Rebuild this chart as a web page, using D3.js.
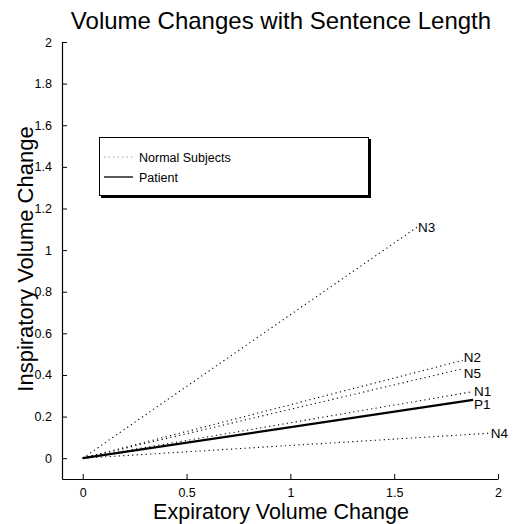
<!DOCTYPE html>
<html>
<head>
<meta charset="utf-8">
<script src="https://cdn.jsdelivr.net/npm/d3@7"></script>
<style>
  html, body { margin: 0; padding: 0; background: #fff; }
  svg { display: block; font-family: "Liberation Sans", Arial, sans-serif; }
</style>
</head>
<body>
<svg id="chart" width="518" height="524"></svg>
<script>
// Data
const subjects = ["N1", "N2", "N3", "N4", "N5", "P1"];
const endX     = [1.88, 1.83, 1.61, 1.96, 1.83, 1.88];
const endY     = [0.32, 0.47, 1.11, 0.12, 0.43, 0.28];
const groups   = ["normal", "normal", "normal", "normal", "normal", "patient"];
const labelDy  = [0, -3, 0, 0, 4, 4];
const xTicks   = [0, 0.5, 1, 1.5, 2];
const yTicks   = [0, 0.2, 0.4, 0.6, 0.8, 1, 1.2, 1.4, 1.6, 1.8, 2];
const legendLabels = ["Normal Subjects", "Patient"];
const legendGroups = ["normal", "patient"];

const svg = d3.select("#chart");
const x = d3.scaleLinear().domain([-0.1, 2]).range([62, 498]);
const y = d3.scaleLinear().domain([-0.1, 2]).range([479, 42]);

const style = {
  normal:  { width: 1.1, dash: "1.2,3.3" },
  patient: { width: 2.2, dash: null }
};

// Axes
const xAxis = d3.axisBottom(x).tickValues(xTicks).tickSizeInner(-5).tickSizeOuter(0)
  .tickPadding(9).tickFormat(d3.format("~g"));
const yAxis = d3.axisLeft(y).tickValues(yTicks).tickSizeInner(-5).tickSizeOuter(0)
  .tickPadding(10).tickFormat(d3.format("~g"));

const gx = svg.append("g").attr("transform", `translate(0,${y(-0.1)})`).call(xAxis);
const gy = svg.append("g").attr("transform", `translate(${x(-0.1)},0)`).call(yAxis);
[gx, gy].forEach(g => {
  g.selectAll("text").attr("font-size", 12.5).attr("fill", "#000")
    .attr("font-family", "Liberation Sans, Arial, sans-serif");
  g.selectAll("line").attr("stroke", "#000");
  g.select(".domain").attr("stroke", "#000").attr("stroke-width", 1.2);
});

// Lines
const data = subjects.map((s, i) => ({ name: s, x: endX[i], y: endY[i], group: groups[i], dy: labelDy[i] }));
svg.append("g").selectAll("line").data(data).join("line")
  .attr("x1", x(0)).attr("y1", y(0))
  .attr("x2", d => x(d.x)).attr("y2", d => y(d.y))
  .attr("stroke", "#000")
  .attr("stroke-width", d => style[d.group].width)
  .attr("stroke-dasharray", d => style[d.group].dash);

svg.append("g").selectAll("text").data(data).join("text")
  .attr("x", d => x(d.x) + 1)
  .attr("y", d => y(d.y) + d.dy)
  .attr("dy", "0.36em")
  .attr("font-size", 13.5)
  .attr("fill", "#000")
  .text(d => d.name);

// Legend
const lg = svg.append("g");
lg.append("rect").attr("x", 101).attr("y", 139).attr("width", 270).attr("height", 59).attr("fill", "#000");
lg.append("rect").attr("x", 99.5).attr("y", 137.5).attr("width", 269).attr("height", 58)
  .attr("fill", "#fff").attr("stroke", "#000").attr("stroke-width", 1);
legendLabels.forEach((lab, i) => {
  const yy = 157 + i * 20;
  lg.append("line").attr("x1", 104).attr("x2", 133).attr("y1", yy).attr("y2", yy)
    .attr("stroke", legendGroups[i] === "normal" ? "#888" : "#000")
    .attr("stroke-width", legendGroups[i] === "normal" ? 1 : 1.3)
    .attr("stroke-dasharray", style[legendGroups[i]].dash);
  lg.append("text").attr("x", 139).attr("y", yy).attr("dy", "0.36em")
    .attr("font-size", 12.5).attr("fill", "#000").text(lab);
});

// Titles
svg.append("text").attr("x", 281).attr("y", 29).attr("text-anchor", "middle")
  .attr("font-size", 24).attr("fill", "#000").text("Volume Changes with Sentence Length");
svg.append("text").attr("x", 281).attr("y", 519).attr("text-anchor", "middle")
  .attr("font-size", 21.5).attr("fill", "#000").text("Expiratory Volume Change");
svg.append("text").attr("transform", "translate(33,259) rotate(-90)").attr("text-anchor", "middle")
  .attr("font-size", 22).attr("fill", "#000").text("Inspiratory Volume Change");
</script>
</body>
</html>
